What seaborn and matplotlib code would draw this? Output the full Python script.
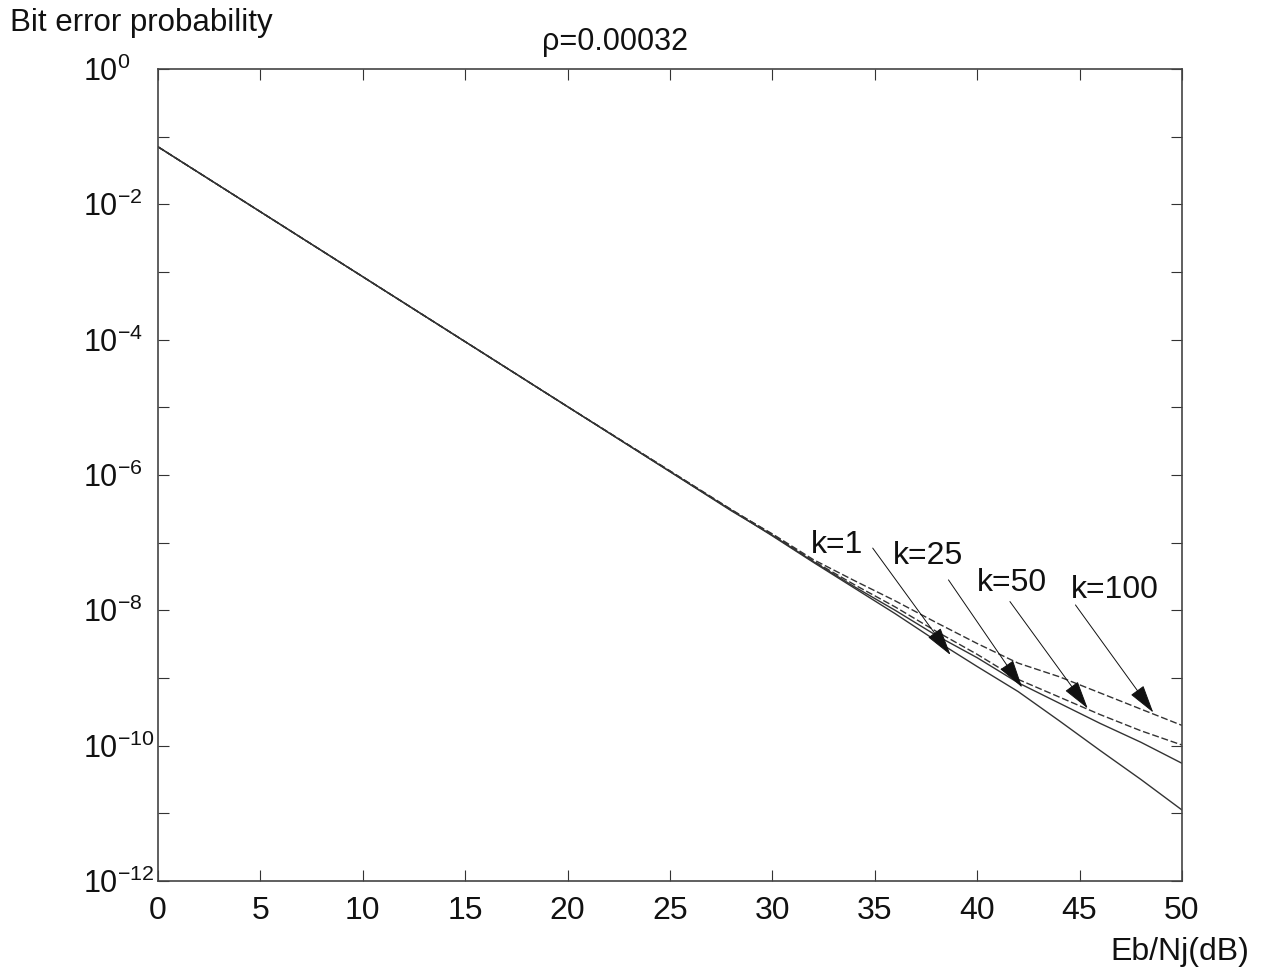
import numpy as np
import pandas as pd
import seaborn as sns
import matplotlib.pyplot as plt

# Eb/Nj in dB
snr = [0, 5, 10, 15, 20, 25, 28, 30, 32, 34, 36, 38, 40, 42, 44, 46, 48, 50]

# log10 of bit error probability
log_k1 = [-1.15, -2.11, -3.07, -4.03, -4.99, -5.95, -6.52, -6.90, -7.29, -7.67,
          -8.05, -8.45, -8.83, -9.20, -9.63, -10.07, -10.50, -10.95]
log_k25 = [-1.15, -2.11, -3.07, -4.03, -4.99, -5.95, -6.53, -6.89, -7.28, -7.65,
           -8.00, -8.37, -8.70, -9.07, -9.37, -9.67, -9.95, -10.26]
log_k50 = [-1.15, -2.11, -3.07, -4.03, -4.99, -5.94, -6.51, -6.88, -7.27, -7.62,
           -7.95, -8.31, -8.65, -9.02, -9.28, -9.54, -9.78, -9.99]
log_k100 = [-1.15, -2.11, -3.07, -4.03, -4.99, -5.94, -6.52, -6.87, -7.25, -7.56,
            -7.86, -8.18, -8.49, -8.78, -8.98, -9.22, -9.46, -9.70]

k_labels = ['k=1', 'k=25', 'k=50', 'k=100']
series = [log_k1, log_k25, log_k50, log_k100]

# label text spots and arrow (start, tip) in (dB, log10 BER)
label_pos = [(31.9, -7.03), (35.9, -7.19), (40.0, -7.59), (44.6, -7.70)]
arrow_from = [(34.9, -7.08), (38.6, -7.55), (41.6, -7.87), (44.8, -7.92)]
arrow_to = [(38.7, -8.66), (42.2, -9.14), (45.4, -9.45), (48.6, -9.51)]

rows = []
for lab, vals in zip(k_labels, series):
    for x, v in zip(snr, vals):
        rows.append({'snr': x, 'ber': 10.0 ** v, 'k': lab})
df = pd.DataFrame(rows)

sns.set_theme(style='ticks')
plt.rcParams['font.family'] = ['Liberation Sans', 'DejaVu Sans']
plt.rcParams['mathtext.fontset'] = 'custom'
plt.rcParams['mathtext.rm'] = 'Liberation Sans'
plt.rcParams['mathtext.it'] = 'Liberation Sans:italic'
plt.rcParams['mathtext.bf'] = 'Liberation Sans:bold'

ink = '#333333'
fig = plt.figure(figsize=(12.66, 9.8), dpi=100)
ax = fig.add_axes([0.1248, 0.1010, 0.8088, 0.8286])

sns.lineplot(data=df, x='snr', y='ber', hue='k', style='k',
             palette={l: ink for l in k_labels},
             dashes={'k=1': '', 'k=25': '', 'k=50': (5, 2), 'k=100': (5, 2)},
             linewidth=1.0, legend=False, ax=ax)

ax.set_yscale('log')
ax.set_xlim(0, 50)
ax.set_ylim(1e-12, 1)
ax.set_xticks(range(0, 51, 5))
ax.set_xticklabels([str(v) for v in range(0, 51, 5)], fontsize=23)
ax.set_yticks(10.0 ** np.arange(-12, 1))
ax.set_yticklabels([r'$\mathregular{10^{%d}}$' % e if e % 2 == 0 else ''
                    for e in range(-12, 1)], fontsize=22)
ax.minorticks_off()
for t in ax.get_yticklabels():
    t.set_horizontalalignment('left')

ax.tick_params(axis='both', direction='in', length=8, width=0.8, colors=ink,
               top=True, right=True)
ax.tick_params(axis='x', pad=11, labelcolor='#111111')
ax.tick_params(axis='y', pad=54, labelcolor='#111111')
for s in ax.spines.values():
    s.set_color('#444444')
    s.set_linewidth(1.2)
ax.set_xlabel('')
ax.set_ylabel('')

for lab, (tx, ty), (ax0, ay0), (ax1, ay1) in zip(k_labels, label_pos, arrow_from, arrow_to):
    ax.text(tx, 10 ** ty, lab, fontsize=23, ha='left', va='center', color='#111111')
    ax.annotate('', xy=(ax1, 10 ** ay1), xytext=(ax0, 10 ** ay0),
                arrowprops=dict(arrowstyle='-|>,head_length=1.8,head_width=0.5',
                                mutation_scale=10, color='#111111', lw=0.7,
                                shrinkA=0, shrinkB=0))

fig.text(0.008, 0.977, 'Bit error probability', fontsize=22.5, ha='left', va='center',
         color='#111111')
fig.text(0.486, 0.957, '\u03c1=0.00032', fontsize=22, ha='center', va='center',
         color='#111111')
fig.text(0.987, 0.029, 'Eb/Nj(dB)', fontsize=23, ha='right', va='center',
         color='#111111')

fig.savefig('out.png', dpi=100)
